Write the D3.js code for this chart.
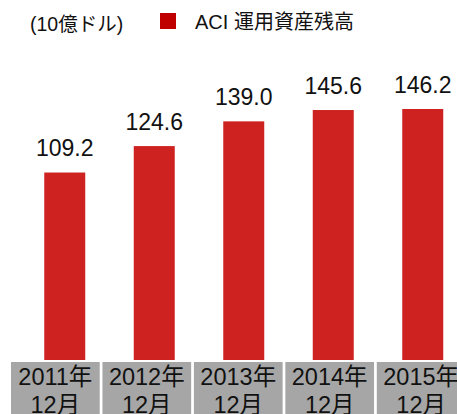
<!DOCTYPE html>
<html>
<head>
<meta charset="utf-8">
<script src="https://cdn.jsdelivr.net/npm/d3@7"></script>
<style>
  html, body { margin: 0; padding: 0; background: #fff; overflow: hidden; }
  svg { display: block; font-family: "Liberation Sans", Arial, "Noto Sans CJK JP", sans-serif; }
</style>
</head>
<body>
<div id="chart"></div>
<script>
const years = ["2011年", "2012年", "2013年", "2014年", "2015年"];
const months = ["12月", "12月", "12月", "12月", "12月"];
const values = [109.2, 124.6, 139.0, 145.6, 146.2];
const unitLabel = "(10億ドル)";
const seriesName = "ACI 運用資産残高";

const width = 457, height = 414;
const barColor = "#cd2220";

const svg = d3.select("#chart").append("svg")
    .attr("width", width)
    .attr("height", height);

// bars
const x = d3.scaleBand()
    .domain(years)
    .range([20, 467.5])
    .paddingInner(0.542)
    .paddingOuter(0.271);

const y = d3.scaleLinear()
    .domain([0, 146.2])
    .range([360, 109]);

svg.selectAll(".bar")
    .data(values)
    .enter()
    .append("rect")
    .attr("class", "bar")
    .attr("x", (d, i) => x(years[i]))
    .attr("y", d => y(d))
    .attr("width", x.bandwidth())
    .attr("height", d => y(0) - y(d))
    .attr("fill", barColor);

svg.selectAll(".value-label")
    .data(values)
    .enter()
    .append("text")
    .attr("class", "value-label")
    .attr("x", (d, i) => x(years[i]) + x.bandwidth() / 2)
    .attr("y", d => y(d) - 16.5)
    .attr("text-anchor", "middle")
    .style("font-size", "23px")
    .style("fill", "#111")
    .text(d => d.toFixed(1));

// category boxes along the bottom
const xb = d3.scaleBand()
    .domain(years)
    .range([11, 465.5])
    .paddingInner(0.03)
    .paddingOuter(0);

const cat = svg.selectAll(".cat")
    .data(years)
    .enter()
    .append("g")
    .attr("class", "cat")
    .attr("transform", d => `translate(${xb(d)},362)`);

cat.append("rect")
    .attr("width", xb.bandwidth())
    .attr("height", 60)
    .attr("fill", "#a6a6a6");

cat.append("text")
    .attr("x", xb.bandwidth() / 2)
    .attr("y", 23)
    .attr("text-anchor", "middle")
    .style("font-size", "23.5px")
    .style("fill", "#111")
    .text(d => d);

cat.append("text")
    .attr("x", xb.bandwidth() / 2)
    .attr("y", 51)
    .attr("text-anchor", "middle")
    .style("font-size", "23.5px")
    .style("fill", "#111")
    .text((d, i) => months[i]);

// legend
svg.append("text")
    .attr("x", 30)
    .attr("y", 31)
    .style("font-size", "19.5px")
    .style("fill", "#111")
    .text(unitLabel);

svg.append("rect")
    .attr("x", 160)
    .attr("y", 13)
    .attr("width", 16)
    .attr("height", 16)
    .attr("fill", "#c00000");

svg.append("text")
    .attr("x", 195)
    .attr("y", 29)
    .style("font-size", "20px")
    .style("fill", "#111")
    .text(seriesName);
</script>
</body>
</html>
